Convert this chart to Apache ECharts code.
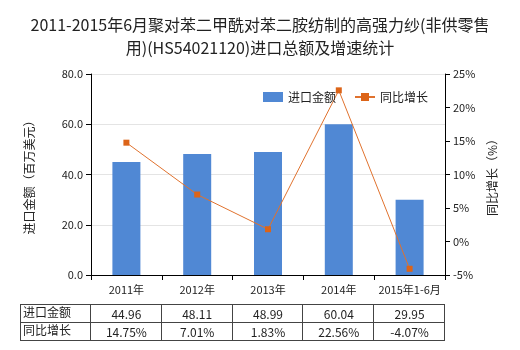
<!DOCTYPE html>
<html><head><meta charset="utf-8">
<script src="https://cdn.jsdelivr.net/npm/echarts@6/dist/echarts.min.js"></script>
<style>html,body{margin:0;padding:0;background:#fff}#c{width:520px;height:350px}</style>
</head><body><div id="c"></div>
<script>
var categories = ['2011年','2012年','2013年','2014年','2015年1-6月'];
var importValues = [44.96, 48.11, 48.99, 60.04, 29.95];
var growthValues = [14.75, 7.01, 1.83, 22.56, -4.07];
var importLabels = ['44.96','48.11','48.99','60.04','29.95'];
var growthLabels = ['14.75%','7.01%','1.83%','22.56%','-4.07%'];
var rowNames = ['进口金额','同比增长'];

var FONT = '"Noto Sans CJK SC", "Microsoft YaHei", sans-serif';
var gL = 91, gR = 445, gT = 74, gB = 275;
var chart = echarts.init(document.getElementById('c'));

// table graphics
var g = [];
var tX0 = 20, tY0 = 304, rowH = 18;
var colW = (gR - gL) / categories.length;
var lineStyle = {stroke:'#444', lineWidth:1};
function hl(y){ g.push({type:'line', shape:{x1:tX0,y1:y,x2:gR,y2:y}, style:lineStyle}); }
function vl(x){ g.push({type:'line', shape:{x1:x,y1:tY0,x2:x,y2:tY0+2*rowH}, style:lineStyle}); }
hl(tY0+0.5); hl(tY0+rowH+0.5); hl(tY0+2*rowH+0.5);
vl(tX0+0.5); vl(gL-0.5);
for (var i=1;i<=categories.length;i++) vl(Math.round(gL+colW*i)-0.5);
var rows = [importLabels, growthLabels];
for (var r=0;r<2;r++){
  g.push({type:'text', left:tX0+3, top:tY0+r*rowH+2, style:{text:rowNames[r], font:'12px '+FONT, fill:'#222'}});
  for (var i=0;i<categories.length;i++){
    g.push({type:'text', x:gL+colW*(i+0.5), y:tY0+r*rowH+rowH/2+1,
      style:{text:rows[r][i], font:'12px '+FONT, fill:'#222', textAlign:'center', textVerticalAlign:'middle'}});
  }
}

chart.setOption({
  animation:false,
  title:{text:'2011-2015年6月聚对苯二甲酰对苯二胺纺制的高强力纱(非供零售\n用)(HS54021120)进口总额及增速统计',
    left:'center', top:8, textStyle:{fontSize:16, fontWeight:'normal', color:'#222', fontFamily:FONT, lineHeight:23}},
  legend:{top:86, left:258, itemWidth:20, itemHeight:10, itemGap:18,
    textStyle:{fontSize:12, color:'#222', fontFamily:FONT},
    data:[{name:'进口金额', icon:'rect'},{name:'同比增长'}]},
  grid:{left:gL, right:520-gR, top:gT, bottom:350-gB},
  xAxis:{type:'category', data:categories, boundaryGap:true,
    axisLine:{lineStyle:{color:'#000'}}, axisTick:{show:true, length:5, lineStyle:{color:'#000'}},
    axisLabel:{fontSize:11, color:'#222', fontFamily:FONT, margin:9, interval:0}},
  yAxis:[
    {type:'value', min:0, max:80, interval:20, name:'进口金额（百万美元）', nameLocation:'middle', nameGap:56,
     nameTextStyle:{fontSize:12, color:'#222', fontFamily:FONT},
     axisLine:{show:true, lineStyle:{color:'#000'}}, axisTick:{show:true, length:5, lineStyle:{color:'#000'}},
     axisLabel:{fontSize:11, color:'#222', fontFamily:FONT, formatter:function(v){return v.toFixed(1);}},
     splitLine:{lineStyle:{color:'#e4e4e4'}}},
    {type:'value', min:-5, max:25, interval:5, name:'同比增长（%）', nameLocation:'middle', nameGap:38,
     nameTextStyle:{fontSize:12, color:'#222', fontFamily:FONT},
     axisLine:{show:true, lineStyle:{color:'#000'}}, axisTick:{show:true, length:5, lineStyle:{color:'#000'}},
     axisLabel:{fontSize:11, color:'#222', fontFamily:FONT, formatter:'{value}%'},
     splitLine:{show:false}}
  ],
  series:[
    {name:'进口金额', type:'bar', data:importValues, barWidth:28, itemStyle:{color:'#5088d4'}},
    {name:'同比增长', type:'line', yAxisIndex:1, data:growthValues, symbol:'rect', symbolSize:6,
     itemStyle:{color:'#dc6418'}, lineStyle:{color:'#e0722e', width:1}}
  ],
  graphic:g
});
</script></body></html>
